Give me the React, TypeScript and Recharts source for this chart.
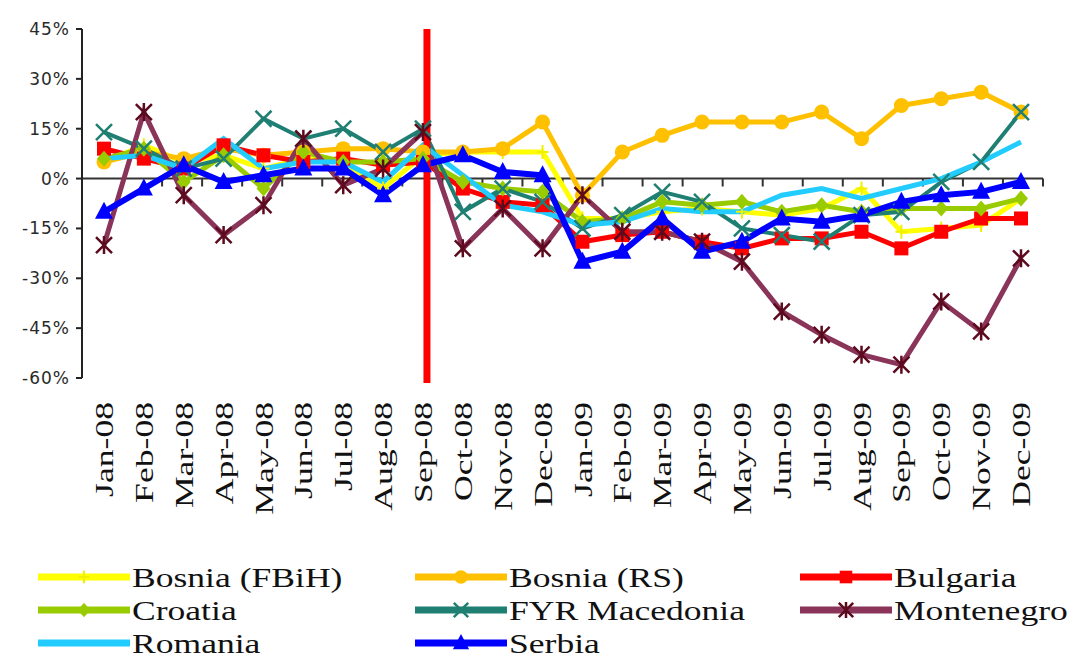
import React from 'react';
import { LineChart, Line, XAxis, YAxis, ReferenceLine } from 'recharts';

const months = [
  'Jan-08', 'Feb-08', 'Mar-08', 'Apr-08', 'May-08', 'Jun-08', 'Jul-08', 'Aug-08', 'Sep-08', 'Oct-08', 'Nov-08', 'Dec-08',
  'Jan-09', 'Feb-09', 'Mar-09', 'Apr-09', 'May-09', 'Jun-09', 'Jul-09', 'Aug-09', 'Sep-09', 'Oct-09', 'Nov-09', 'Dec-09',
];
const yTicks = [-60, -45, -30, -15, 0, 15, 30, 45];

const bosniaFBiH = [5, 10, 5, 7, 3, 6, 5, -3, 7, 8, 8, 8, -12, -12, -10, -9, -10, -11, -9, -3, -16, -15, -14, -6];
const bosniaRS = [5, 8, 6, 9, 7, 8, 9, 9, 8, 8, 9, 17, -5, 8, 13, 17, 17, 17, 20, 12, 22, 24, 26, 20];
const bulgaria = [9, 6, 3, 10, 7, 5, 6, 4, 5, -3, -7, -8, -19, -17, -16, -19, -21, -18, -18, -16, -21, -16, -12, -12];
const croatia = [6, 9, -1, 7, -3, 8, 5, 5, 6, -1, -3, -4, -13, -12, -7, -8, -7, -10, -8, -10, -9, -9, -9, -6];
const macedonia = [14, 9, 3, 6, 18, 12, 15, 8, 15, -10, -3, -7, -15, -11, -4, -7, -15, -17, -19, -11, -10, -1, 5, 20];
const montenegro = [-20, 20, -5, -17, -8, 12, -2, 3, 14, -21, -9, -21, -5, -16, -16, -19, -25, -40, -47, -53, -56, -37, -46, -24];
const romania = [6, 7, 3, 12, 3, 5, 5, -1, 10, 1, -8, -10, -14, -13, -9, -10, -10, -5, -3, -6, -3, 0, 5, 11];
const serbia = [-10, -3, 4, -1, 1, 3, 3, -5, 4, 7, 2, 1, -25, -22, -12, -22, -19, -12, -13, -11, -7, -5, -4, -1];

type Marker = 'plus' | 'circle' | 'square' | 'diamond' | 'x' | 'star' | 'none' | 'triangle';

const series: { key: string; name: string; values: number[]; color: string; markColor: string; marker: Marker; width: number }[] = [
  { key: 'fbih', name: 'Bosnia (FBiH)', values: bosniaFBiH, color: '#FFFF00', markColor: '#F0F000', marker: 'plus', width: 5 },
  { key: 'rs', name: 'Bosnia (RS)', values: bosniaRS, color: '#FFC000', markColor: '#FFC000', marker: 'circle', width: 5 },
  { key: 'bg', name: 'Bulgaria', values: bulgaria, color: '#FF0000', markColor: '#FF0000', marker: 'square', width: 5 },
  { key: 'hr', name: 'Croatia', values: croatia, color: '#99CC00', markColor: '#99CC00', marker: 'diamond', width: 5 },
  { key: 'mk', name: 'FYR Macedonia', values: macedonia, color: '#1F7F72', markColor: '#1F7F72', marker: 'x', width: 4 },
  { key: 'me', name: 'Montenegro', values: montenegro, color: '#8A3459', markColor: '#5C0A1E', marker: 'star', width: 5 },
  { key: 'ro', name: 'Romania', values: romania, color: '#22CCFF', markColor: '#22CCFF', marker: 'none', width: 5 },
  { key: 'rs2', name: 'Serbia', values: serbia, color: '#0000FF', markColor: '#0000FF', marker: 'triangle', width: 6 },
];

const data = months.map((m, i) => {
  const row: any = { month: m };
  series.forEach((s) => { row[s.key] = s.values[i]; });
  return row;
});

function markerShape(marker: Marker, x: number, y: number, color: string, k = 1) {
  const s = k;
  switch (marker) {
    case 'plus':
      return <path d={`M${x - 6 * s},${y}H${x + 6 * s}M${x},${y - 7 * s}V${y + 7 * s}`} stroke={color} strokeWidth={2} fill="none" />;
    case 'circle':
      return <circle cx={x} cy={y} r={7.5 * s} fill={color} />;
    case 'square':
      return <rect x={x - 7 * s} y={y - 7 * s} width={14 * s} height={14 * s} fill={color} />;
    case 'diamond':
      return <path d={`M${x},${y - 8 * s}L${x + 7 * s},${y}L${x},${y + 8 * s}L${x - 7 * s},${y}Z`} fill={color} />;
    case 'x':
      return <path d={`M${x - 8 * s},${y - 8 * s}L${x + 8 * s},${y + 8 * s}M${x - 8 * s},${y + 8 * s}L${x + 8 * s},${y - 8 * s}`} stroke={color} strokeWidth={2.5} fill="none" />;
    case 'star':
      return <path d={`M${x - 8 * s},${y - 8 * s}L${x + 8 * s},${y + 8 * s}M${x - 8 * s},${y + 8 * s}L${x + 8 * s},${y - 8 * s}M${x},${y - 9 * s}V${y + 9 * s}`} stroke={color} strokeWidth={2.5} fill="none" />;
    case 'triangle':
      return <path d={`M${x},${y - 10 * s}L${x + 9 * s},${y + 7 * s}L${x - 9 * s},${y + 7 * s}Z`} fill={color} />;
    default:
      return null;
  }
}

const makeDot = (marker: Marker, color: string) => (props: any) => {
  const { cx, cy, index } = props;
  if (cx == null || cy == null) return <g key={index} />;
  return <g key={`${marker}-${index}`}>{markerShape(marker, cx, cy, color)}</g>;
};

const YTick = ({ x, y, payload }: any) => (
  <text x={x - 4} y={y} dy="0.35em" textAnchor="end" fontFamily="DejaVu Sans" fontSize={17} fill="#2a2a2a" letterSpacing={1}>
    {`${payload.value}%`}
  </text>
);

const XTick = ({ x, y, payload }: any) => (
  <g transform={`translate(${x},${y + 22}) scale(1,1.37) rotate(-90)`}>
    <text x={0} y={0} dy="0.35em" textAnchor="end" fontFamily="Liberation Serif" fontSize={26} fill="#111">
      {payload.value}
    </text>
  </g>
);

// zero line with small tick marks at the category boundaries
const ZeroLine = (props: any) => {
  const { x1, x2, y1 } = props;
  if (x1 == null) return null;
  const step = (x2 - x1) / months.length;
  let d = `M${x1},${y1}H${x2}`;
  for (let k = 0; k <= months.length; k++) d += `M${x1 + k * step},${y1}V${y1 + 8}`;
  return <path d={d} stroke="#333" strokeWidth={2} fill="none" />;
};

// the crisis marker sits just right of the Sep-08 point and runs a little past the axis
const CrisisLine = (props: any) => {
  const { x1, y1, y2 } = props;
  if (x1 == null) return null;
  return <line x1={x1 + 4} x2={x1 + 4} y1={Math.min(y1, y2)} y2={Math.max(y1, y2) + 5} stroke="#FF0000" strokeWidth={7} />;
};

const legendCols = [38, 415, 800];
const legendRows = [577, 610, 643];

export default function App() {
  return (
    <div style={{ position: 'relative', width: 1070, height: 662, background: '#fff' }}>
      <style>{'body{margin:0}'}</style>
      <LineChart width={1070} height={662} data={data} margin={{ top: 29, right: 27, left: 0, bottom: 134 }}>
        <XAxis dataKey="month" interval={0} axisLine={false} tickLine={false} tickSize={0} height={150}
          padding={{ left: 22, right: 22 }} tick={<XTick />} />
        <YAxis domain={[-60, 45]} ticks={yTicks} width={82} axisLine={{ stroke: '#222', strokeWidth: 2 }}
          tickLine={{ stroke: '#222', strokeWidth: 2 }} tickSize={6} tick={<YTick />} allowDataOverflow />
        <ReferenceLine y={0} shape={<ZeroLine />} />
        {series.map((s) => (
          <Line key={s.key} dataKey={s.key} name={s.name} stroke={s.color} strokeWidth={s.width}
            dot={makeDot(s.marker, s.markColor)} activeDot={false} isAnimationActive={false} />
        ))}
        <ReferenceLine x="Sep-08" shape={<CrisisLine />} />
      </LineChart>
      {series.map((s, i) => {
        const col = legendCols[i % 3];
        const row = legendRows[Math.floor(i / 3)];
        return (
          <div key={s.key} style={{ position: 'absolute', left: col, top: row - 16, height: 32, display: 'flex', alignItems: 'center' }}>
            <svg width={92} height={32} style={{ display: 'block' }}>
              <line x1={0} y1={16} x2={92} y2={16} stroke={s.color} strokeWidth={7} strokeLinecap="round" />
              {markerShape(s.marker, 46, 16, s.markColor, 0.9)}
            </svg>
            <span style={{ display: 'inline-block', marginLeft: 2, fontFamily: 'Liberation Serif', fontSize: 28, color: '#111',
              transform: 'scaleX(1.27)', transformOrigin: 'left center', lineHeight: '31px', whiteSpace: 'nowrap' }}>{s.name}</span>
          </div>
        );
      })}
    </div>
  );
}
